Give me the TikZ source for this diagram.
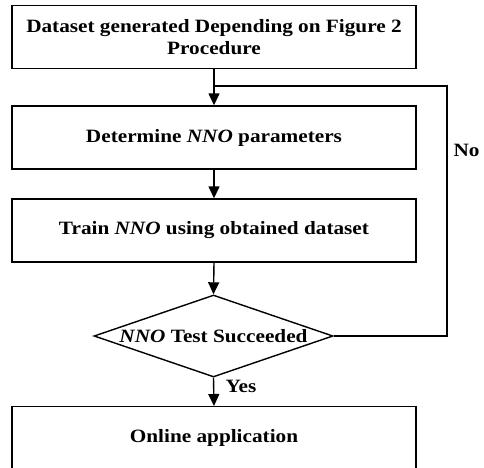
\documentclass[tikz,border=0pt]{standalone}
\usepackage{fontspec}
\setmainfont[FakeStretch=1.13]{Liberation Serif}
\usetikzlibrary{shapes.geometric,arrows.meta}
\begin{document}
\begin{tikzpicture}[x=1pt,y=-1pt,
  font=\fontsize{18.8}{22.5}\selectfont\bfseries,
  stepbox/.style={draw, line width=1.4pt, minimum width=404pt, minimum height=63pt,
    inner sep=0pt, align=center},
  decision/.style={draw, diamond, line width=1.4pt, minimum width=239pt,
    minimum height=82pt, inner sep=0pt},
  flow/.style={-{Triangle[length=12pt,width=11pt]}, line width=1.4pt},
  link/.style={line width=1.4pt}]
\useasboundingbox (0,0) rectangle (484,467);
\clip (0,0) rectangle (484,467);

% process boxes
\node[stepbox] (data) at (214,37) {Dataset generated Depending on Figure 2\\Procedure};
\node[stepbox] (param) at (214,137.5) {Determine \textit{NNO} parameters};
\node[stepbox] (train) at (214,230.5) {Train \textit{NNO} using obtained dataset};
\node[decision] (test) at (213.5,336) {};
\node at (test.center) (testtext) {\textit{NNO} Test Succeeded};
\node[stepbox, minimum height=80pt, anchor=north] (online) at (214,406) {};
\node at (214,438) (onlinetext) {Online application};

% loop-back junction
\coordinate (join) at (214,86);
\coordinate (corner1) at (447,336);
\coordinate (corner2) at (447,86);

% connectors
\draw[flow] (data.south) -- (param.north);
\draw[flow] (param.south) -- (train.north);
\draw[flow] (train.south) -- (test.north);
\draw[flow] (test.south) -- (online.north);
\draw[link] (test.east) -- (corner1) -- (corner2) -- (join);

% branch labels
\node at (241,386) (yes) {Yes};
\node[anchor=west] at (450,150) (no) {No};
\end{tikzpicture}
\end{document}
